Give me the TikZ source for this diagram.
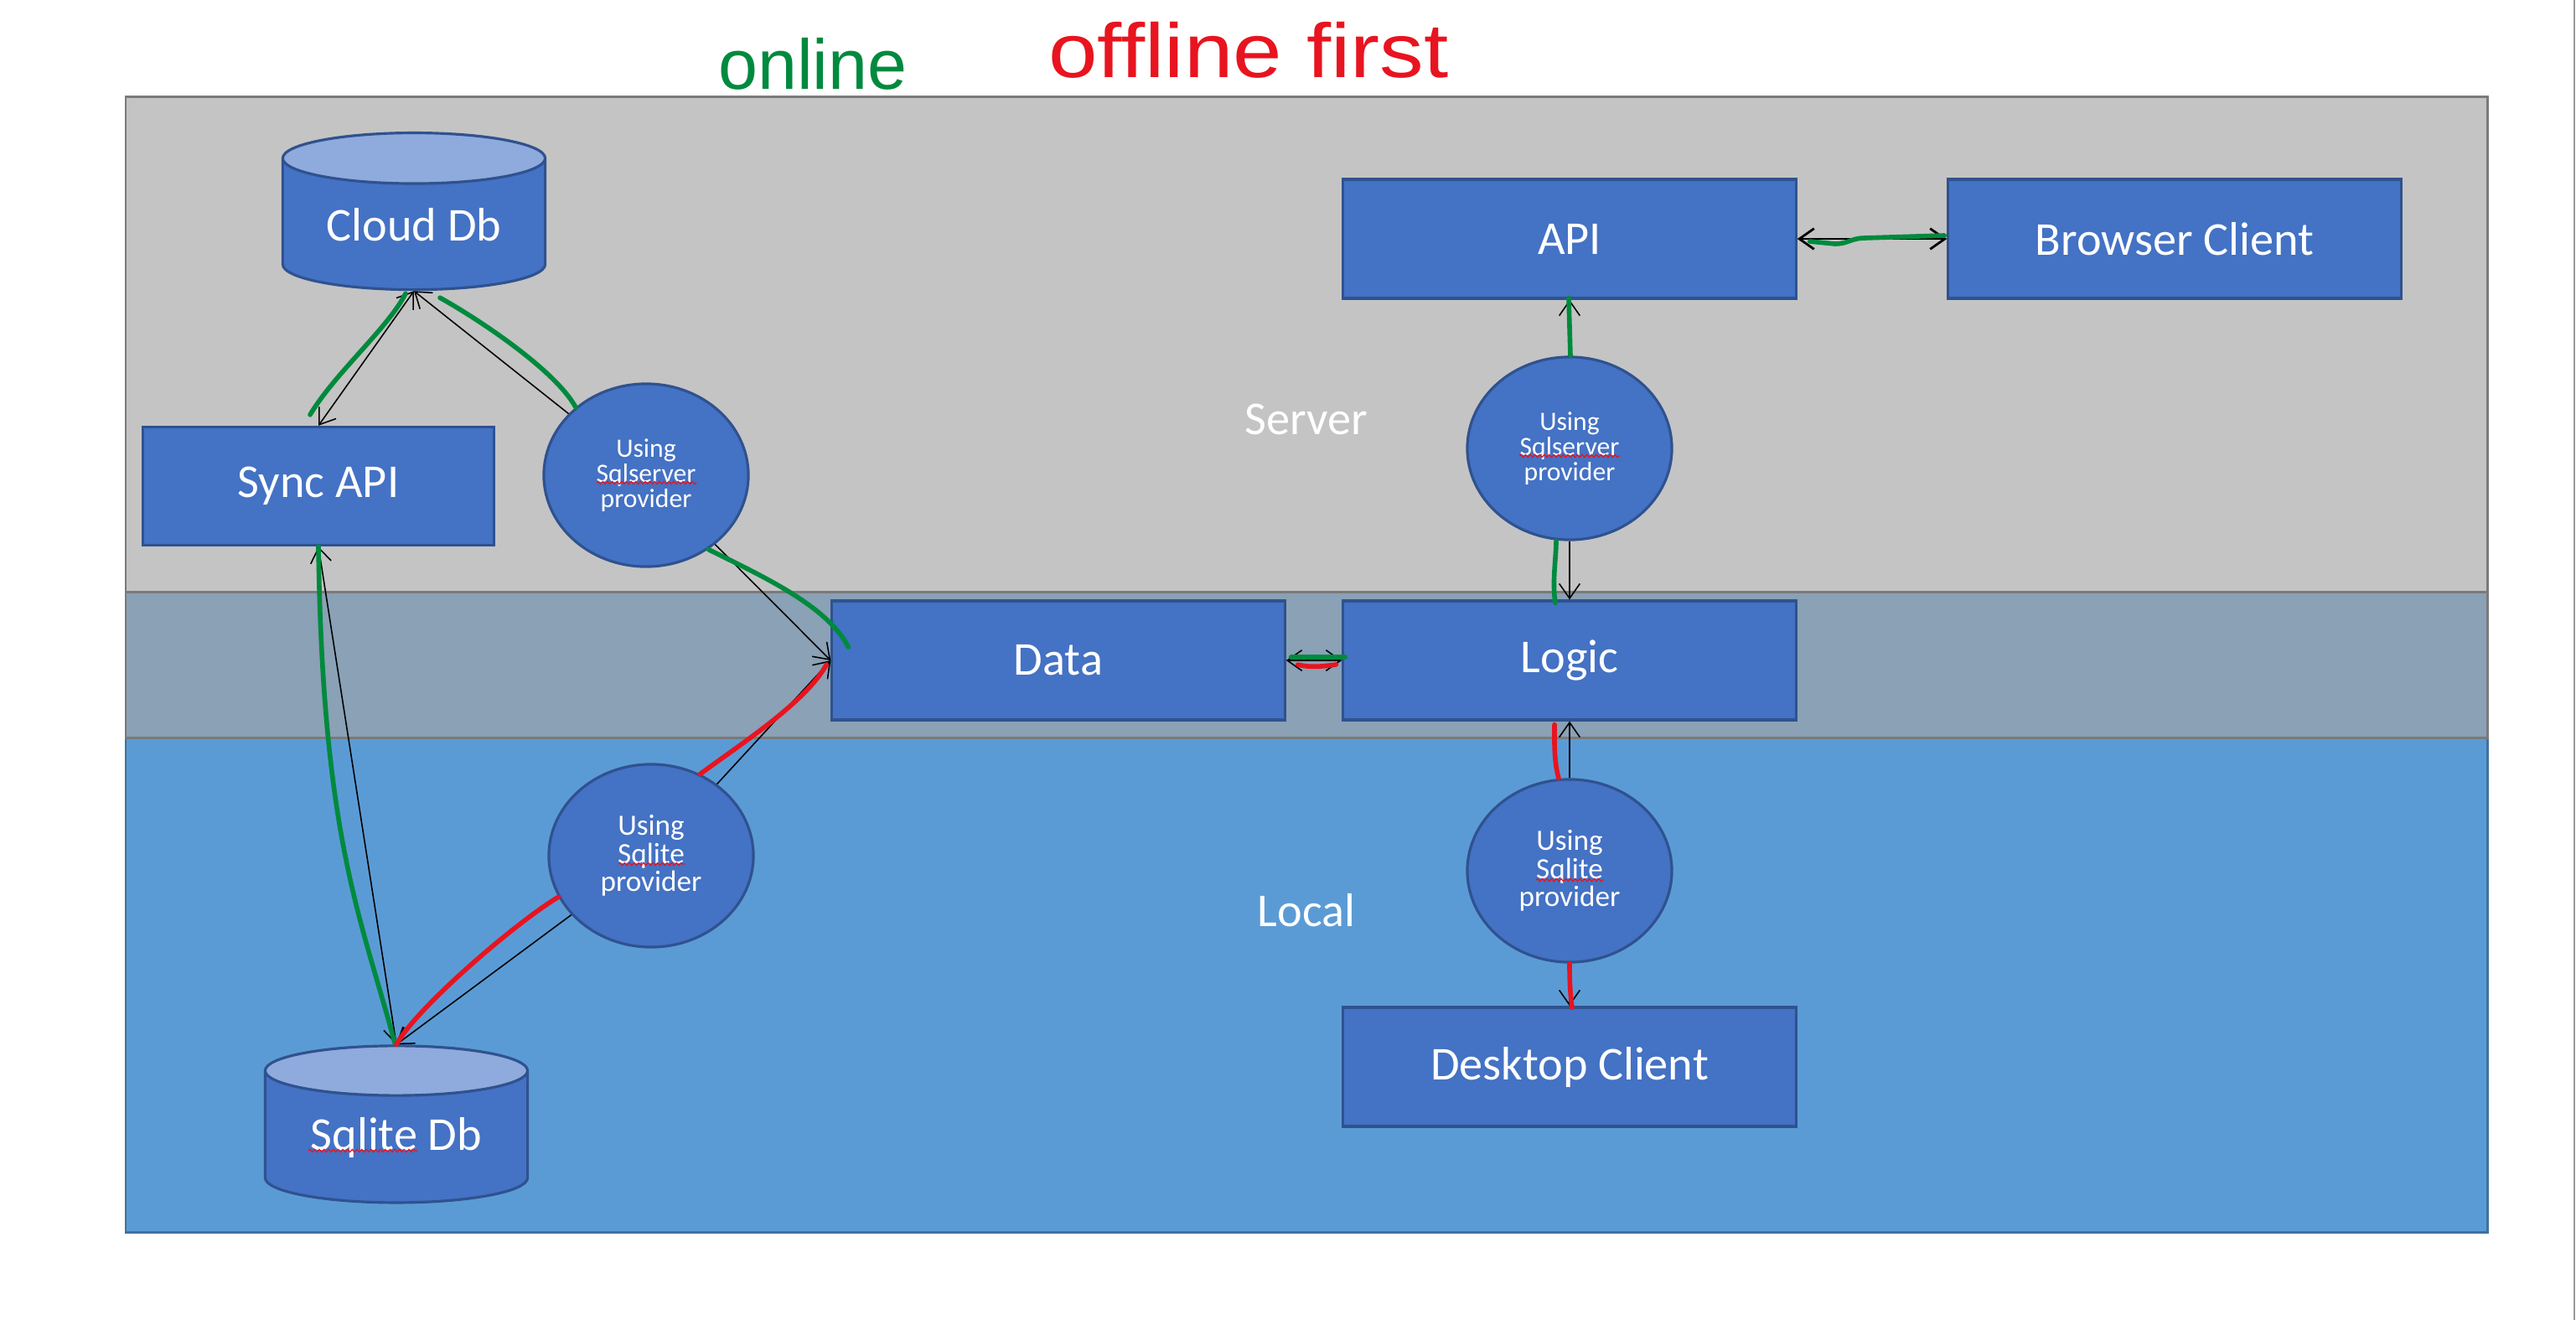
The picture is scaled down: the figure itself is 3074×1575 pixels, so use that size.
\documentclass[tikz,border=0pt]{standalone}
\usepackage{fontspec}
\setmainfont{Carlito}
\newfontfamily\handfont{Liberation Sans}
\usetikzlibrary{positioning,arrows.meta,shapes.geometric,decorations.pathmorphing}
\definecolor{boxblue}{HTML}{4472C4}
\definecolor{boxedge}{HTML}{2F528F}
\definecolor{captop}{HTML}{8FAADC}
\definecolor{serverbg}{HTML}{C4C4C4}
\definecolor{databg}{HTML}{8AA1B6}
\definecolor{localbg}{HTML}{5B9BD5}
\definecolor{localedge}{HTML}{41719C}
\definecolor{bandedge}{HTML}{7A7A7A}
\definecolor{pengreen}{HTML}{008A3E}
\definecolor{penred}{HTML}{E8141F}
\newcommand\boxfont{\fontsize{16}{19}\selectfont}
\newcommand\sqlsrvfont{\fontsize{9}{8.6}\selectfont}
\newcommand\sqlitefont{\fontsize{10}{9.5}\selectfont}
\tikzset{
  oneway/.style={-{Straight Barb[length=5pt, width=7pt]}, line width=0.45pt},
  twoway/.style={{Straight Barb[length=5pt, width=7pt]}-{Straight Barb[length=5pt, width=7pt]}, line width=0.45pt},
  greenpen/.style={draw=pengreen, line width=1.6pt, line cap=round, line join=round},
  redpen/.style={draw=penred, line width=1.6pt, line cap=round, line join=round},
  spellmark/.style={draw=penred, line width=0.35pt, decorate, decoration={snake, amplitude=0.45pt, segment length=1.6pt}},
  block/.style={draw=boxedge, line width=0.9pt, fill=boxblue, text=white, font=\boxfont, minimum width=5.4cm, minimum height=1.42cm, inner sep=0pt},
  provider/.style={ellipse, draw=boxedge, line width=0.9pt, fill=boxblue, text=white, align=center, minimum width=2.44cm, minimum height=2.18cm, inner sep=0pt},
  dbstore/.style={cylinder, shape border rotate=90, aspect=0.29, draw=boxedge, line width=0.9pt, cylinder uses custom fill, cylinder body fill=boxblue, cylinder end fill=captop, text=white, font=\boxfont, minimum width=3.13cm, minimum height=1.87cm, inner sep=0pt},
  band/.style={line width=0.85pt},
  zonelabel/.style={text=white, font=\boxfont}
}

\begin{document}
\begin{tikzpicture}[x=0.01cm, y=-0.01cm]
  \fill[white] (0,0) rectangle (3074,1575);
  \useasboundingbox (0,0) rectangle (3074,1575);
  \draw[gray!80, line width=0.3pt] (3072,0) -- (3072,1575);

  % bands
  \draw[band, draw=localedge, fill=localbg] (150,880) rectangle (2968,1470);
  \draw[band, draw=bandedge, fill=serverbg] (150,115) rectangle (2968,706);
  \draw[band, draw=bandedge, fill=databg] (150,706) rectangle (2968,880);
  \node[zonelabel] (serverlbl) at (1559,500) {Server};
  \node[zonelabel] (locallbl) at (1559,1086) {Local};

  % handwritten notes
  \node[text=pengreen, font=\handfont\fontsize{24}{28}\selectfont, anchor=base] (onlinelbl) at (970,106) {online};
  \node[text=penred, font=\handfont\fontsize{26}{30}\selectfont, anchor=base] (offlinelbl) at (1490,92) {\scalebox{1.15}[1]{offline first}};

  % nodes
  \node[dbstore] (cloud) at (494,268) {Cloud Db};
  \node[block, minimum width=4.19cm, minimum height=1.41cm] (syncapi) at (380,580) {Sync API};
  \node[provider, font=\sqlsrvfont] (sqlsrvL) at (771,567) {Using\\Sqlserver\\provider};
  \node[block] (data) at (1263,788) {Data};
  \node[block] (logic) at (1873,788) {Logic};
  \node[block] (api) at (1873,285) {API};
  \node[block] (browser) at (2595,285) {Browser Client};
  \node[provider, font=\sqlsrvfont] (sqlsrvR) at (1873,535) {Using\\Sqlserver\\provider};
  \node[provider, font=\sqlitefont] (sqliteL) at (777,1021) {Using\\Sqlite\\provider};
  \node[dbstore] (sqlitedb) at (473,1357) {Sqlite Db};
  \node[provider, font=\sqlitefont] (sqliteR) at (1873,1039) {Using\\Sqlite\\provider};
  \node[block] (desktop) at (1873,1273) {Desktop Client};

  % spell-check marks
  \draw[spellmark] ([shift={(-59,9)}]sqlsrvL.center) -- ++(119,0);
  \draw[spellmark] ([shift={(-60,9)}]sqlsrvR.center) -- ++(119,0);
  \draw[spellmark] ([shift={(-39,10)}]sqliteL.center) -- ++(79,0);
  \draw[spellmark] ([shift={(-40,11)}]sqliteR.center) -- ++(80,0);
  \draw[spellmark] ([shift={(-105,16)}]sqlitedb.center) -- ++(130,0);

  % connectors
  \draw[twoway] (cloud.south) -- (syncapi.north);
  \draw[oneway] (sqlsrvL) -- (cloud.south);
  \draw[oneway] (sqlsrvL) -- (data.west);
  \draw[oneway] (sqliteL) -- (data.west);
  \draw[oneway] (sqliteL) -- (sqlitedb.north);
  \draw[twoway] (syncapi.south) -- (sqlitedb.north);
  \draw[twoway] (data.east) -- (logic.west);
  \draw[twoway, line width=0.8pt] (api.east) -- (browser.west);
  \draw[oneway] (sqlsrvR) -- (api.south);
  \draw[oneway] (sqlsrvR) -- (logic.north);
  \draw[oneway] (sqliteR) -- (logic.south);
  \draw[oneway] (sqliteR) -- (desktop.north);

  % online (green)
  \draw[greenpen] ([shift={(-10,-13)}]syncapi.north) .. controls +(30,-50) and +(-20,40) .. ([shift={(-10,3)}]cloud.south);
  \draw[greenpen] ([shift={(31,8)}]cloud.south) .. controls +(45,25) and +(-25,-45) .. (sqlsrvL.136);
  \draw[greenpen] (sqlsrvL.-50) .. controls +(60,30) and +(-25,-50) .. ([shift={(21,-16)}]data.west);
  \draw[greenpen] (syncapi.south) .. controls +(5,350) and +(-40,-150) .. ([shift={(-2,-2)}]sqlitedb.north);
  \draw[greenpen] ([shift={(-17,4)}]logic.north) .. controls +(-4,-25) and +(0,20) .. ([shift={(-16,0)}]sqlsrvR.south);
  \draw[greenpen] ([shift={(1,0)}]sqlsrvR.north) -- ([shift={(-1,-2)}]api.south);
  \draw[greenpen] ([shift={(15,3)}]api.east) -- ([shift={(45,6)}]api.east) .. controls +(15,0) and +(-15,0) .. ([shift={(80,-1)}]api.east) -- ([shift={(-3,-4)}]browser.west);
  \draw[greenpen] ([shift={(6,-4)}]data.east) -- ([shift={(4,-4)}]logic.west);

  % offline first (red)
  \draw[redpen] ([shift={(14,5)}]data.east) .. controls +(15,4) and +(-15,2) .. ([shift={(-7,5)}]logic.west);
  \draw[redpen] (sqliteL.59) .. controls +(50,-37) and +(-25,45) .. ([shift={(-5,5)}]data.west);
  \draw[redpen] (sqliteL.204) .. controls +(-50,30) and +(25,-45) .. (sqlitedb.north);
  \draw[redpen] ([shift={(-13,0)}]sqliteR.north) .. controls +(-6,-20) and +(0,15) .. ([shift={(-18,4)}]logic.south);
  \draw[redpen] (sqliteR.south) .. controls +(0,25) and +(-2,-15) .. ([shift={(3,2)}]desktop.north);
\end{tikzpicture}
\end{document}
